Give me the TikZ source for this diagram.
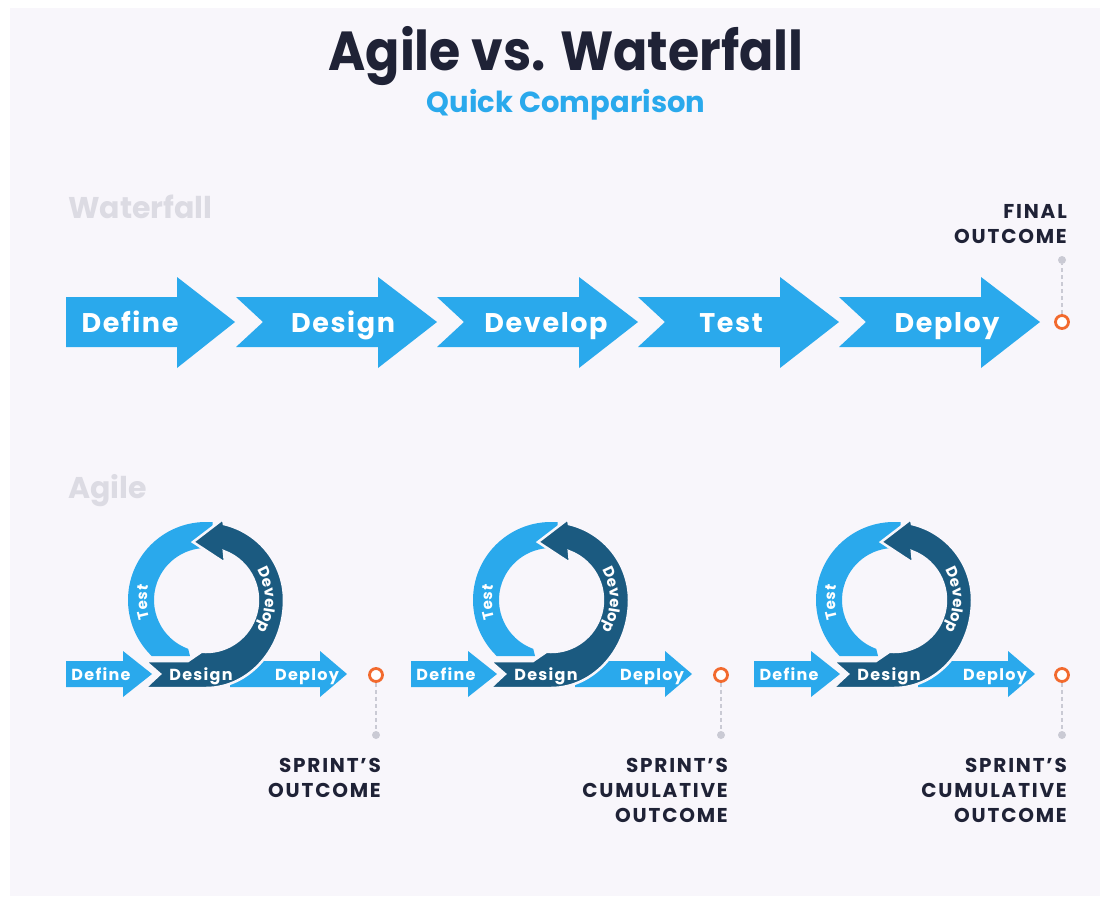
\documentclass[tikz,border=0pt]{standalone}
\usepackage{fontspec}
\setmainfont{Poppins}
\newfontfamily\titlefont{Poppins}[FakeStretch=0.92]
\usetikzlibrary{decorations.text}
\definecolor{bgpanel}{HTML}{F8F6FB}
\definecolor{lblue}{HTML}{2AA9EC}
\definecolor{dblue}{HTML}{1B5A80}
\definecolor{navy}{HTML}{1F2236}
\definecolor{orng}{HTML}{F26A2E}
\definecolor{lgray}{HTML}{DCDBE3}
\definecolor{dgray}{HTML}{CACAD4}
\begin{document}
\begin{tikzpicture}[x=1pt,y=1pt,
  lbluefill/.style={fill=lblue},
  dbluefill/.style={fill=dblue,draw=bgpanel,line width=2.5pt,line join=miter},
  wflabel/.style={anchor=base,inner sep=0,text=white,font=\fontsize{27}{30}\selectfont\bfseries\addfontfeatures{LetterSpace=6}},
  aglabel/.style={anchor=base,inner sep=0,text=white,font=\fontsize{16}{18}\selectfont\bfseries\addfontfeatures{LetterSpace=8}},
  sectionlbl/.style={anchor=base west,inner sep=0,text=lgray,font=\fontsize{30}{34}\selectfont\bfseries},
  outtext/.style={anchor=base east,inner sep=0,text=navy,font=\fontsize{20}{24}\selectfont\bfseries\addfontfeatures{LetterSpace=9}},
  outring/.style={circle,draw=orng,line width=2.8pt,fill=white,minimum size=13pt,inner sep=0},
  outdot/.style={circle,fill=dgray,minimum size=8pt,inner sep=0},
  leader/.style={draw=dgray,line width=1.2pt,dash pattern=on 4pt off 3pt},
]
\useasboundingbox (0,0) rectangle (1101,-898);
\fill[white] (0,0) rectangle (1101,-898);
\fill[bgpanel] (10,-8) rectangle (1100,-896);

% titles
\node[anchor=base,inner sep=0,text=navy,font=\titlefont\fontsize{55}{60}\selectfont\bfseries] (title) at (566,-70) {Agile vs. Waterfall};
\node[anchor=base,inner sep=0,text=lblue,font=\fontsize{29}{32}\selectfont\bfseries] (subtitle) at (566,-112) {Quick Comparison};
\node[sectionlbl] (wfhead) at (68,-218) {Waterfall};
\node[sectionlbl] (aghead) at (68,-498) {Agile};

% waterfall arrows
\fill[lbluefill] (66,-297) -- (177,-297) -- (177,-277) -- (235,-322) -- (177,-368) -- (177,-347) -- (66,-347) -- cycle;
\foreach \i in {1,...,4}{
  \pgfmathsetmacro{\L}{35+201*\i}
  \pgfmathsetmacro{\N}{\L+27}
  \pgfmathsetmacro{\H}{\L+142}
  \pgfmathsetmacro{\T}{\L+201}
  \fill[lbluefill] (\L,-297) -- (\H,-297) -- (\H,-277) -- (\T,-322) -- (\H,-368) -- (\H,-347) -- (\L,-347) -- (\N,-322) -- cycle;
}
\node[wflabel] (wf1) at (130,-332) {Define};
\node[wflabel] (wf2) at (343,-332) {Design};
\node[wflabel] (wf3) at (546,-332) {Develop};
\node[wflabel] (wf4) at (731,-332) {Test};
\node[wflabel] (wf5) at (947,-332) {Deploy};

% final outcome
\node[outring] (fo) at (1062,-322) {};
\node[outdot] (fd) at (1062,-260) {};
\draw[leader] (fo) -- (fd);
\node[outtext] (fol1) at (1067,-218) {FINAL};
\node[outtext] (fol2) at (1067,-243) {OUTCOME};

% agile sprints
\foreach \o/\k in {0/1,345/2,688/3}{
\begin{scope}[shift={(\o,0)}]
  % define arrow
  \fill[lbluefill] (66,-661) -- (123,-661) -- (123,-651) -- (152,-674) -- (123,-697) -- (123,-687) -- (66,-687) -- cycle;
  % deploy arrow
  \fill[lbluefill] (230,-661) -- (320,-661) -- (320,-651) -- (347,-674) -- (320,-697) -- (320,-687) -- (230,-687) -- cycle;
  % test ring (light)
  \fill[lbluefill] ([shift={(85:78)}]206,-600) arc[start angle=85, end angle=226, radius=78]
     -- (190,-656) -- ([shift={(250:52)}]206,-600) arc[start angle=250, end angle=85, radius=52] -- cycle;
  % design/develop ring (dark)
  \filldraw[dbluefill] (145,-661) -- (160,-674) -- (145,-688) -- (206,-688)
     arc[start angle=-90, end angle=0, x radius=78, y radius=88]
     arc[start angle=0, end angle=76.7, radius=78]
     -- (223,-519) -- (193,-542) -- (225,-563) -- ([shift={(69.9:52)}]206,-600)
     arc[start angle=69.9, end angle=-95, radius=52]
     -- (188,-661) -- cycle;
  % labels
  \path[decorate, decoration={text along path, text align=center,
     text={|\color{white}\fontsize{15}{15}\selectfont\bfseries|Develop}}]
     ([shift={(48:59)}]206,-600) arc[start angle=48, end angle=-48, radius=59];
  \path[decorate, decoration={text along path, text align=center,
     text={|\color{white}\fontsize{15}{15}\selectfont\bfseries|Test}}]
     ([shift={(207:59)}]206,-600) arc[start angle=207, end angle=157, radius=59];
  \node[aglabel] (agdef\k) at (101,-680) {Define};
  \node[aglabel] (agdes\k) at (201,-680) {Design};
  \node[aglabel] (agdep\k) at (307,-680) {Deploy};
\end{scope}
}

% sprint outcomes
\node[outring] (o1) at (376,-675) {};
\node[outdot] (d1) at (376,-735) {};
\draw[leader] (o1) -- (d1);
\node[outtext] (o1l1) at (381,-772) {SPRINT’S};
\node[outtext] (o1l2) at (381,-797) {OUTCOME};

\node[outring] (o2) at (721,-675) {};
\node[outdot] (d2) at (721,-735) {};
\draw[leader] (o2) -- (d2);
\node[outtext] (o2l1) at (728,-772) {SPRINT’S};
\node[outtext] (o2l2) at (728,-797) {CUMULATIVE};
\node[outtext] (o2l3) at (728,-822) {OUTCOME};

\node[outring] (o3) at (1062,-675) {};
\node[outdot] (d3) at (1062,-735) {};
\draw[leader] (o3) -- (d3);
\node[outtext] (o3l1) at (1067,-772) {SPRINT’S};
\node[outtext] (o3l2) at (1067,-797) {CUMULATIVE};
\node[outtext] (o3l3) at (1067,-822) {OUTCOME};
\end{tikzpicture}
\end{document}
